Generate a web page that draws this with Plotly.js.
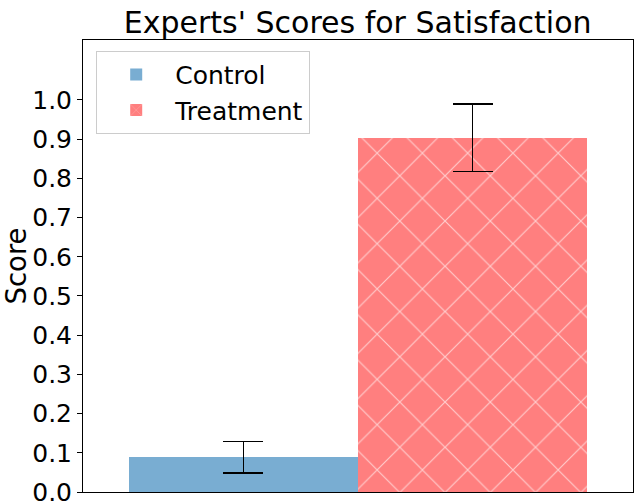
<!DOCTYPE html>
<html>
<head>
<meta charset="utf-8">
<script src="https://cdn.plot.ly/plotly-3.0.1.min.js"></script>
<style>
	body { margin: 0; }
	#chart { width: 641px; height: 503px; }
</style>
</head>
<body>
<div id="chart"></div>
<script>
// values
var groups = [ 'Control', 'Treatment' ];
var positions = [ 0, 1 ];
var scores = [ 0.089, 0.904 ];
var errors = [ 0.04, 0.086 ];
var colors = [ 'rgba(31,119,180,0.6)', 'rgba(255,0,0,0.5)' ];
var yTicks = [ 0, 0.1, 0.2, 0.3, 0.4, 0.5, 0.6, 0.7, 0.8, 0.9, 1.0 ];

var font = 'DejaVu Sans, sans-serif';

function makeTrace(i) {
	var trace = {
		x : [ positions[i] ],
		y : [ scores[i] ],
		type : 'bar',
		name : groups[i],
		width : 1,
		legendgroup : groups[i],
		marker : {
			color : colors[i],
			line : { width : 0 }
		},
		error_y : {
			type : 'data',
			array : [ errors[i] ],
			visible : true,
			color : 'black',
			thickness : 1.5,
			width : 20
		},
		hoverinfo : 'none'
	};
	if (i == 1) {
		trace.marker.pattern = {
			shape : 'x',
			fgcolor : 'rgba(255,255,255,0.6)',
			bgcolor : colors[i],
			size : 32,
			solidity : 0.07
		};
	}
	return trace;
}

var data = groups.map(function(g, i) { return makeTrace(i); });

var layout = {
	width : 641,
	height : 503,
	margin : { l : 83, r : 8, t : 40, b : 11 },
	paper_bgcolor : 'white',
	plot_bgcolor : 'white',
	font : { family : font, color : 'black' },
	title : {
		text : "Experts' Scores for Satisfaction",
		font : { family : font, size : 30, color : 'black' },
		x : 0.558,
		xanchor : 'center',
		y : 0.955,
		yanchor : 'middle'
	},
	barmode : 'group',
	bargap : 0,
	showlegend : true,
	legend : {
		x : 0.024,
		y : 0.976,
		xanchor : 'left',
		yanchor : 'top',
		font : { family : font, size : 25 },
		bordercolor : '#cccccc',
		borderwidth : 1,
		bgcolor : 'rgba(255,255,255,0.8)',
		tracegroupgap : 0,
		itemwidth : 68
	},
	xaxis : {
		range : [ -0.7, 1.7 ],
		showticklabels : false,
		ticks : '',
		showgrid : false,
		zeroline : false,
		showline : true,
		linecolor : 'black',
		linewidth : 1,
		mirror : true,
		fixedrange : true
	},
	yaxis : {
		range : [ 0, 1.153 ],
		tickvals : yTicks,
		tickformat : '.1f',
		ticks : 'outside',
		ticklen : 5,
		tickwidth : 1,
		tickcolor : 'black',
		tickfont : { family : font, size : 25 },
		ticklabeloverflow : 'allow',
		showgrid : false,
		zeroline : false,
		showline : true,
		linecolor : 'black',
		linewidth : 1,
		mirror : true,
		title : {
			text : 'Score',
			font : { family : font, size : 27.5 },
			standoff : 6
		}
	}
};

Plotly.newPlot('chart', data, layout, { displayModeBar : false, staticPlot : true });
</script>
</body>
</html>
